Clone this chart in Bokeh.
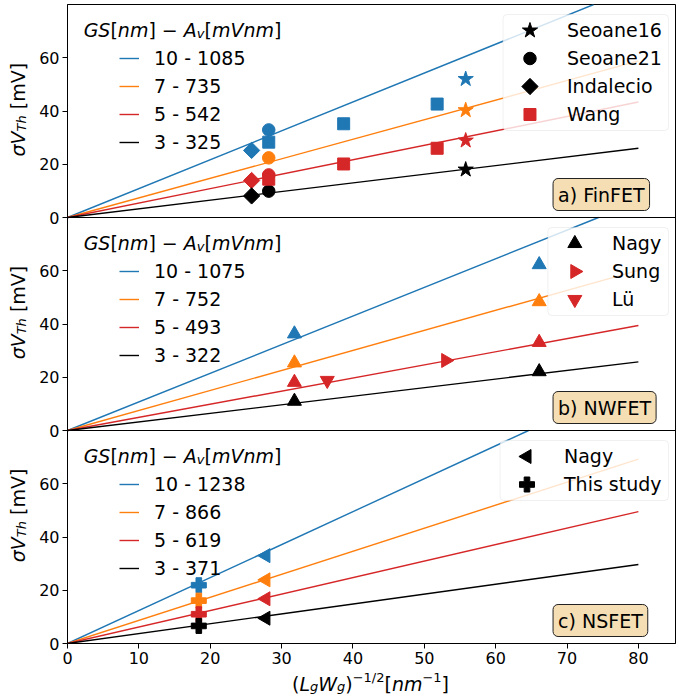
import math
from bokeh.plotting import figure
from bokeh.layouts import column, row
from bokeh.models import Range1d, FixedTicker, Label, Legend, LegendItem, Span, BoxAnnotation
from bokeh.core.properties import value
from bokeh.embed import file_html
from bokeh.resources import INLINE

FONT = "DejaVu Sans"

# ---------------- data ----------------
GS_COLORS = ["#1f77b4", "#ff7f0e", "#d62728", "black"]   # GS = 10, 7, 5, 3 nm
X_TICKS = [0, 10, 20, 30, 40, 50, 60, 70, 80]
Y_TICKS = [0, 20, 40, 60]
LINE_X_MAX = 80
PANEL_Y_MAX = 80
X_MAX = 85.2

FIN_LABELS = ["10 - 1085", "7 - 735", "5 - 542", "3 - 325"]
FIN_AV = [1085, 735, 542, 325]
NW_LABELS = ["10 - 1075", "7 - 752", "5 - 493", "3 - 322"]
NW_AV = [1075, 752, 493, 322]
NS_LABELS = ["10 - 1238", "7 - 866", "5 - 619", "3 - 371"]
NS_AV = [1238, 866, 619, 371]

# FinFET measurements (rows: GS 10, 7, 5, 3)
SEOANE16_X = [55.8]
SEOANE16_Y = [[52.0], [40.3], [28.9], [18.0]]
SEOANE21_X = [28.2]
SEOANE21_Y = [[32.9], [22.4], [16.0], [9.9]]
INDALECIO_X = [25.8]
INDALECIO_Y = [[25.2], None, [13.9], [8.1]]
WANG_X = [28.2, 38.7, 51.8]
WANG_Y = [[28.3, 35.2, 42.6], None, [14.4, 20.1, 26.0], None]
# NWFET
NAGY_NW_X = [31.8, 66.1]
NAGY_NW_Y = [[36.3, 62.3], [25.4, 48.4], [18.1, 33.1], [11.0, 22.1]]
SUNG_X = [53.0]
SUNG_Y = [None, None, [26.3], None]
LU_X = [36.4]
LU_Y = [None, None, [18.8], None]
# NSFET
NAGY_NS_X = [27.8]
NAGY_NS_Y = [[33.0], [23.9], [16.8], [9.5]]
STUDY_X = [18.4]
STUDY_Y = [[21.9], [16.1], [11.0], [6.6]]

# ---------------- styles ----------------
MARKERS = {
    "star": ("star", 16, 0.0),
    "circle": ("circle", 12.5, 0.0),
    "diamond": ("square", 11.5, math.pi / 4),
    "square": ("square", 12, 0.0),
    "up": ("triangle", 14, 0.0),
    "right": ("triangle", 14, -math.pi / 2),
    "down": ("inverted_triangle", 14, 0.0),
    "left": ("triangle", 14, math.pi / 2),
    "plus": ("plus", 15, 0.0),
}

PANELS = [
    dict(name="a", av=FIN_AV, labels=FIN_LABELS, tag="a) FinFET",
         series=[("Seoane16", SEOANE16_X, SEOANE16_Y, "star", 3),
                 ("Seoane21", SEOANE21_X, SEOANE21_Y, "circle", 3),
                 ("Indalecio", INDALECIO_X, INDALECIO_Y, "diamond", 3),
                 ("Wang", WANG_X, WANG_Y, "square", 2)]),
    dict(name="b", av=NW_AV, labels=NW_LABELS, tag="b) NWFET",
         series=[("Nagy", NAGY_NW_X, NAGY_NW_Y, "up", 3),
                 ("Sung", SUNG_X, SUNG_Y, "right", 2),
                 ("Lü", LU_X, LU_Y, "down", 2)]),
    dict(name="c", av=NS_AV, labels=NS_LABELS, tag="c) NSFET",
         series=[("Nagy", NAGY_NS_X, NAGY_NS_Y, "left", 3),
                 ("This study", STUDY_X, STUDY_Y, "plus", 3)]),
]

# ---------------- layout ----------------
YLAB_W = 36
XLAB_H = 28
FRAME_W = 610
PANEL_H = 213
NP = len(PANELS)
FRAME_H = NP * PANEL_H
B_LEFT, B_RIGHT, B_TOP, B_BOTTOM = 29, 4, 4, 28
MAIN_H = B_TOP + FRAME_H + B_BOTTOM
MAIN_W = B_LEFT + FRAME_W + B_RIGHT
TXT_SHIFT = 8   # measured offset of Bokeh's alphabetic baseline

p = figure(width=MAIN_W, height=MAIN_H,
           x_range=Range1d(0, X_MAX), y_range=Range1d(0, NP * PANEL_Y_MAX),
           output_backend="svg", toolbar_location=None,
           min_border_left=B_LEFT, min_border_right=B_RIGHT,
           min_border_top=B_TOP, min_border_bottom=B_BOTTOM)
p.grid.visible = False
p.outline_line_color = "black"
p.outline_line_width = 1
p.background_fill_color = "white"
p.border_fill_color = "white"
# pixel-space ranges for the marker-legend box and swatches
p.extra_x_ranges["px"] = Range1d(0, FRAME_W)
p.extra_y_ranges["px"] = Range1d(0, FRAME_H)

for ax in (p.xaxis[0], p.yaxis[0]):
    ax.major_label_text_font = FONT
    ax.major_label_text_font_size = "16px"
    ax.major_label_text_color = "black"
    ax.major_tick_out = 5
    ax.major_tick_in = 0
    ax.minor_tick_out = 0
    ax.minor_tick_in = 0
    ax.axis_line_color = "black"
    ax.major_tick_line_color = "black"
    ax.major_label_standoff = 3

p.xaxis.ticker = FixedTicker(ticks=X_TICKS)
all_ticks, overrides = [], {}
for k in range(NP):
    base = (NP - 1 - k) * PANEL_Y_MAX
    for t in Y_TICKS:
        all_ticks.append(base + t)
        overrides[base + t] = str(t)
p.yaxis.ticker = FixedTicker(ticks=sorted(all_ticks))
p.yaxis.major_label_overrides = overrides

# panel separators
for k in range(1, NP):
    p.add_layout(Span(location=k * PANEL_Y_MAX, dimension="width",
                      line_color="black", line_width=1))

# ---------------- text helpers ----------------
CW = {'(': 0.390, ')': 0.390, '[': 0.390, ']': 0.390, '−': 0.838, '-': 0.361,
      '/': 0.337, ' ': 0.318, 'L': 0.557, 'W': 0.989, 'g': 0.635, 'n': 0.634,
      'm': 0.974, 'V': 0.684, 'A': 0.684, 'G': 0.775, 'S': 0.635, 'T': 0.611,
      'h': 0.634, 'v': 0.592, 'σ': 0.634, 'a': 0.613, 'e': 0.615, 'o': 0.612,
      'N': 0.748, 'y': 0.592, 'u': 0.634, 'i': 0.278, 's': 0.521, 't': 0.392,
      'd': 0.635, 'l': 0.278, 'c': 0.550, 'I': 0.295, 'ü': 0.634}


def tw(s, size):
    return sum(CW.get(ch, 0.636) for ch in s) * size


def math_text(fig, pieces, x, y, yname, xoff, yoff, rotated=False):
    total = sum(tw(t, sz) for t, sz, st, dy in pieces)
    d = -total / 2
    for t, sz, st, dy in pieces:
        if t.strip():
            kw = dict(text=t, x=x, y=y, y_range_name=yname, text_font=FONT,
                      text_font_size=f"{sz}px", text_font_style=st, text_color="black",
                      text_align="left", text_baseline="alphabetic")
            if rotated:
                lab = Label(x_offset=xoff - dy - TXT_SHIFT, y_offset=yoff + d,
                            angle=math.pi / 2, **kw)
            else:
                lab = Label(x_offset=xoff + d, y_offset=yoff + dy + TXT_SHIFT, **kw)
            fig.add_layout(lab)
        d += tw(t, sz)


YLABEL = [("σV", 19, "italic", 0), ("Th", 13, "italic", -4), (" ", 19, "normal", 0),
          ("[mV]", 19, "normal", 0)]
TITLE = [("GS", 19, "italic", 0), ("[", 19, "normal", 0), ("nm", 19, "italic", 0),
         ("]", 19, "normal", 0), (" ", 19, "normal", 0), ("−", 19, "normal", 0),
         (" ", 19, "normal", 0), ("A", 19, "italic", 0), ("v", 13, "italic", -4),
         ("[", 19, "normal", 0), ("mVnm", 19, "italic", 0), ("]", 19, "normal", 0)]
XLABEL = [("(", 19, "normal", 0), ("L", 19, "italic", 0), ("g", 13, "italic", -3),
          ("W", 19, "italic", 0), ("g", 13, "italic", -3), (")", 19, "normal", 0),
          ("−1/2", 13, "normal", 6), ("[", 19, "normal", 0), ("nm", 19, "italic", 0),
          ("−1", 13, "normal", 6), ("]", 19, "normal", 0)]

# ---------------- y-label strip and x-label strip ----------------
ylab = figure(width=YLAB_W, height=MAIN_H, x_range=Range1d(0, YLAB_W),
              y_range=Range1d(0, MAIN_H), output_backend="svg", toolbar_location=None,
              x_axis_type=None, y_axis_type=None, min_border=0,
              outline_line_color=None)
ylab.grid.visible = False
ylab.border_fill_color = "white"

xlab = figure(width=YLAB_W + MAIN_W, height=XLAB_H, x_range=Range1d(0, YLAB_W + MAIN_W),
              y_range=Range1d(0, XLAB_H), output_backend="svg", toolbar_location=None,
              x_axis_type=None, y_axis_type=None, min_border=0,
              outline_line_color=None)
xlab.grid.visible = False
xlab.border_fill_color = "white"

# ---------------- panels ----------------
for k, pan in enumerate(PANELS):
    name = pan["name"]
    base = (NP - 1 - k) * PANEL_Y_MAX
    p.extra_y_ranges[name] = Range1d(-base, NP * PANEL_Y_MAX - base)
    panel_top = (NP - k) * PANEL_H  # frame px from bottom

    # model lines, cut at the panel top
    line_rs = []
    for av, col in zip(pan["av"], GS_COLORS):
        x_end = min(LINE_X_MAX, PANEL_Y_MAX * 1000.0 / av)
        r = p.line([0, x_end], [0, av * x_end / 1000.0], line_color=col,
                   line_width=1.4, y_range_name=name)
        line_rs.append(r)

    # measurements
    for lab, xs, ys_by_gs, style, leg_idx in pan["series"]:
        mk, sz, ang = MARKERS[style]
        for gi, ys in enumerate(ys_by_gs):
            if ys is None:
                continue
            p.scatter(xs, ys, marker=mk, size=sz, angle=ang,
                      fill_color=GS_COLORS[gi], line_color=GS_COLORS[gi],
                      line_width=1, y_range_name=name)

    # line legend (no frame) + composed title
    math_text(p, TITLE, 0, PANEL_Y_MAX, name, 115, -33)
    items = [LegendItem(label=value(l), renderers=[r]) for l, r in zip(pan["labels"], line_rs)]
    leg = Legend(items=items, location=(52, panel_top - 149), padding=0, margin=0,
                 spacing=6, glyph_width=20, glyph_height=22, label_height=22,
                 label_standoff=15, label_text_font=FONT, label_text_font_size="19px",
                 label_text_color="black", border_line_alpha=0, background_fill_alpha=0)
    p.add_layout(leg)

    # marker legend: framed box, swatches (keeping marker rotation), then texts
    ser = pan["series"]
    n = len(ser)
    lw = int(max(tw(s[0], 19) for s in ser) + 7)
    pad, gw, gh, sp, st = 2, 50, 28, 0, 11
    box_w = 2 * pad + gw + st + lw
    box_h = 2 * pad + n * gh + (n - 1) * sp
    lx = FRAME_W - 7 - box_w
    ly = panel_top - 10 - box_h
    box = BoxAnnotation(left=lx, right=lx + box_w, bottom=ly, top=ly + box_h,
                        x_range_name="px", y_range_name="px", level="glyph",
                        fill_color="white", fill_alpha=0.8,
                        line_color="#cccccc", line_width=1)
    try:
        box.border_radius = 4
    except Exception:
        pass
    p.add_layout(box)
    for i, (lab, xs, ys_by_gs, style, leg_idx) in enumerate(ser):
        mk, sz, ang = MARKERS[style]
        cx = lx + pad + gw / 2
        cy = ly + box_h - pad - gh / 2 - i * (gh + sp)
        p.scatter([cx], [cy], marker=mk, size=sz, angle=ang,
                  fill_color=GS_COLORS[leg_idx], line_color=GS_COLORS[leg_idx],
                  line_width=1, x_range_name="px", y_range_name="px", level="annotation")
    items2 = [LegendItem(label=value(s[0]), renderers=[]) for s in ser]
    leg2 = Legend(items=items2, location=(lx, ly),
                  padding=pad, margin=0, spacing=sp, glyph_width=gw, glyph_height=gh,
                  label_height=gh, label_width=lw, label_standoff=st, label_text_font=FONT,
                  label_text_font_size="19px", label_text_color="black",
                  border_line_alpha=0, background_fill_alpha=0,
                  inactive_fill_alpha=0)
    p.add_layout(leg2)

    # panel tag box
    tag = Label(x=67.2, y=0, y_range_name=name, x_offset=6, y_offset=23,
                text=pan["tag"], text_font=FONT, text_font_size="19px",
                text_color="black", text_baseline="middle", text_align="left",
                background_fill_color="#f5deb3", border_line_color="#222222",
                border_line_width=1)
    try:
        tag.padding = 5
        tag.border_radius = 5
    except Exception:
        pass
    p.add_layout(tag)

    # y axis label (in the strip, centred on the panel)
    center_y = MAIN_H - B_TOP - k * PANEL_H - PANEL_H / 2
    math_text(ylab, YLABEL, 25, center_y, "default", 0, 0, rotated=True)

# x axis label (in the strip, centred on the frame)
math_text(xlab, XLABEL, YLAB_W + B_LEFT + FRAME_W / 2, 8, "default", 0, 0)

layout = column(row(ylab, p), xlab)
open("out.html", "w").write(file_html(layout, INLINE))
